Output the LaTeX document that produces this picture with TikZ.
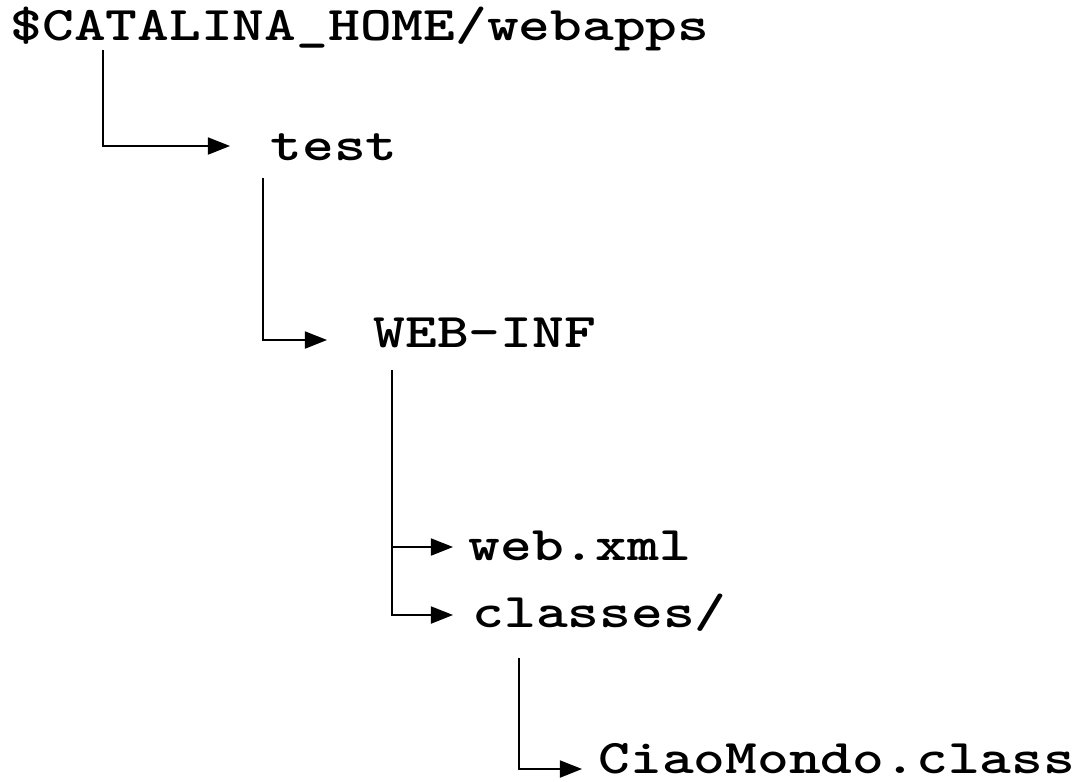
\documentclass[tikz,border=0pt]{standalone}
\usepackage{fontspec}
\usetikzlibrary{arrows.meta,calc}
\newcommand\dirtext[1]{\scalebox{1}[0.8]{#1}}
\begin{document}
\begin{tikzpicture}[x=0.01cm,y=-0.01cm,
    every node/.style={anchor=base west,inner sep=0pt,font=\ttfamily\bfseries\fontsize{17.2}{20}\selectfont},
    branch/.style={-{Triangle[length=0.22cm,width=0.17cm]},line width=0.5pt}]
    \useasboundingbox (0,0) rectangle (1084,781);
    \node (root) at (10,40) {\dirtext{\$CATALINA\_HOME/webapps}};
    \node (test) at (270,160) {\dirtext{test}};
    \node (webinf) at (373,347) {\dirtext{WEB-INF}};
    \node (webxml) at (468,560) {\dirtext{web.xml}};
    \node (classes) at (472,627) {\dirtext{classes/}};
    \node (ciao) at (598,773) {\dirtext{CiaoMondo.class}};
    \draw[branch] ($(root.base west)+(93,10)$) |- ($(test.base west)+(-40,-14)$);
    \draw[branch] ($(test.base west)+(-7,18)$) |- ($(webinf.base west)+(-46,-7)$);
    \draw[branch] ($(webinf.base west)+(19,23)$) |- ($(webxml.base west)+(-15,-13)$);
    \draw[branch] ($(webinf.base west)+(19,23)$) |- ($(classes.base west)+(-19,-12)$);
    \draw[branch] ($(classes.base west)+(47,31)$) |- ($(ciao.base west)+(-16,-4)$);
\end{tikzpicture}
\end{document}
